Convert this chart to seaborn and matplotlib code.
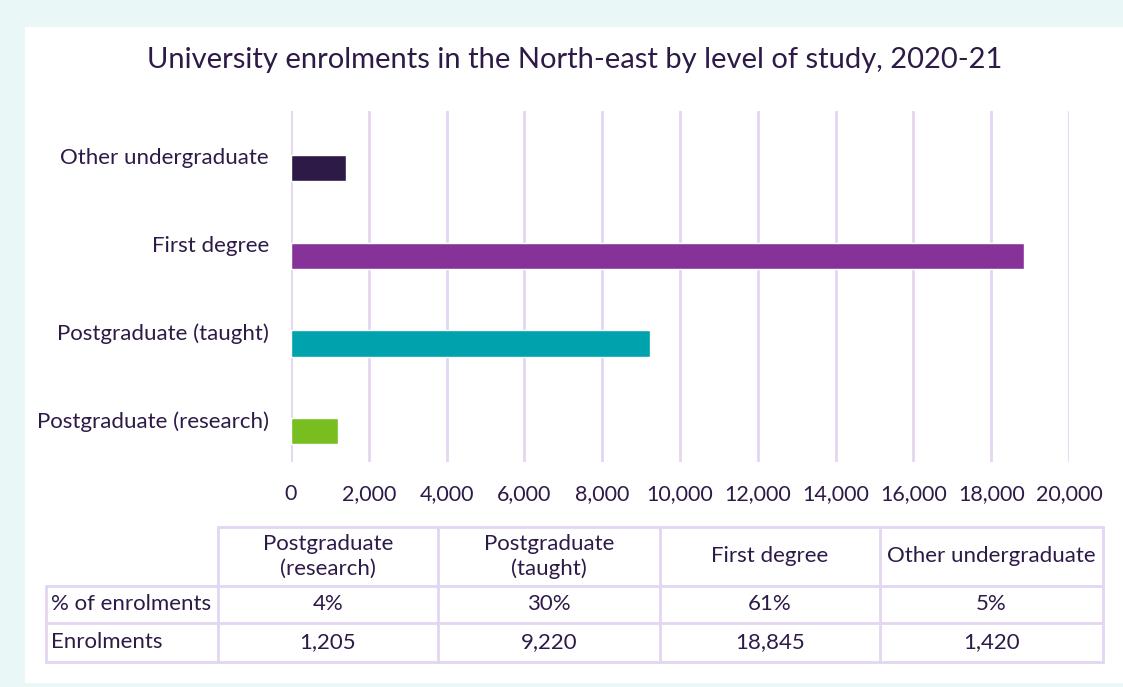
import matplotlib
matplotlib.use("Agg")
import matplotlib.pyplot as plt
import matplotlib.patches as mpatches
import matplotlib.transforms as mtransforms
import pandas as pd
import seaborn as sns

# data
levels = ["Other undergraduate", "First degree", "Postgraduate (taught)", "Postgraduate (research)"]
enrolments = [1420, 18845, 9220, 1205]
bar_colors = ["#2E1A47", "#873299", "#00A3AD", "#78BE20"]

table_cols = ["Postgraduate\n(research)", "Postgraduate\n(taught)", "First degree", "Other undergraduate"]
table_pct = ["4%", "30%", "61%", "5%"]
table_enrol = [1205, 9220, 18845, 1420]
row_labels = ["% of enrolments", "Enrolments"]

x_ticks = list(range(0, 20001, 2000))

TEXT = "#2E1A47"
GRID = "#E2D6F0"
TEAL_BG = "#EAF7F7"
FONT = "Lato"

W, H = 1123, 687


def fx(px):
    return px / W


def fy(py):
    return 1 - py / H


def main():
    sns.set_theme(style="white")
    plt.rcParams["font.family"] = [FONT, "DejaVu Sans"]

    fig = plt.figure(figsize=(W / 100, H / 100), dpi=100)
    fig.patch.set_facecolor(TEAL_BG)
    fig.patches.append(mpatches.Rectangle((fx(25), fy(683)), fx(W - 25), (683 - 27) / H,
                                          transform=fig.transFigure, facecolor="white",
                                          edgecolor="none", zorder=-5))

    # bar chart
    ax = fig.add_axes([fx(291), fy(462), fx(1069 - 291), (462 - 111) / H])
    ax.set_facecolor("none")
    df = pd.DataFrame({"level": levels, "enrolments": enrolments})
    sns.barplot(data=df, y="level", x="enrolments", hue="level", order=levels,
                palette=bar_colors, dodge=False, legend=False, width=0.3,
                saturation=1, ax=ax, zorder=3)
    ax.set_xlim(0, 20000)
    ax.set_ylim(3.35, -0.65)
    ax.set_xticks(x_ticks)
    ax.set_xticklabels([f"{v:,}" for v in x_ticks])
    ax.xaxis.grid(True, color=GRID, linewidth=2)
    ax.set_axisbelow(True)
    for s in ax.spines.values():
        s.set_visible(False)
    ax.tick_params(axis="x", length=0, labelsize=15.5, labelcolor=TEXT, pad=16)
    ax.tick_params(axis="y", length=0, labelsize=16, labelcolor=TEXT, pad=16)
    # category labels sit a little above the bar centres in the original
    shift = mtransforms.ScaledTranslation(0, 12 / 100, fig.dpi_scale_trans)
    for lab in ax.get_yticklabels():
        lab.set_transform(lab.get_transform() + shift)
    ax.set_xlabel("")
    ax.set_ylabel("")

    fig.text(fx(575), fy(60), "University enrolments in the North-east by level of study, 2020-21",
             ha="center", va="center", fontsize=21, color=TEXT)

    # data table below the chart, drawn on an overlay axes in pixel units
    tax = fig.add_axes([0, 0, 1, 1])
    tax.set_xlim(0, W)
    tax.set_ylim(H, 0)
    tax.axis("off")

    col_x = [46, 218, 438, 660, 880, 1103]
    row_y = [527, 586, 623, 662]
    lw = 2
    # header row (no cell over the label column)
    tax.plot([col_x[1], col_x[-1]], [row_y[0], row_y[0]], color=GRID, lw=lw)
    for y in row_y[1:]:
        tax.plot([col_x[0], col_x[-1]], [y, y], color=GRID, lw=lw)
    tax.plot([col_x[0], col_x[0]], [row_y[1], row_y[-1]], color=GRID, lw=lw)
    for x in col_x[1:]:
        tax.plot([x, x], [row_y[0], row_y[-1]], color=GRID, lw=lw)

    fs = 16
    for i, name in enumerate(table_cols):
        cx = (col_x[i + 1] + col_x[i + 2]) / 2
        tax.text(cx, (row_y[0] + row_y[1]) / 2, name, ha="center", va="center",
                 fontsize=fs, color=TEXT, linespacing=1.3)
        tax.text(cx, (row_y[1] + row_y[2]) / 2, table_pct[i], ha="center", va="center",
                 fontsize=fs, color=TEXT)
        tax.text(cx, (row_y[2] + row_y[3]) / 2, f"{table_enrol[i]:,}", ha="center", va="center",
                 fontsize=fs, color=TEXT)
    for j, lab in enumerate(row_labels):
        tax.text(col_x[0] + 5, (row_y[j + 1] + row_y[j + 2]) / 2, lab, ha="left", va="center",
                 fontsize=fs, color=TEXT)

    fig.savefig("out.png", dpi=100, facecolor=fig.get_facecolor())
    plt.close(fig)


if __name__ == "__main__":
    main()
